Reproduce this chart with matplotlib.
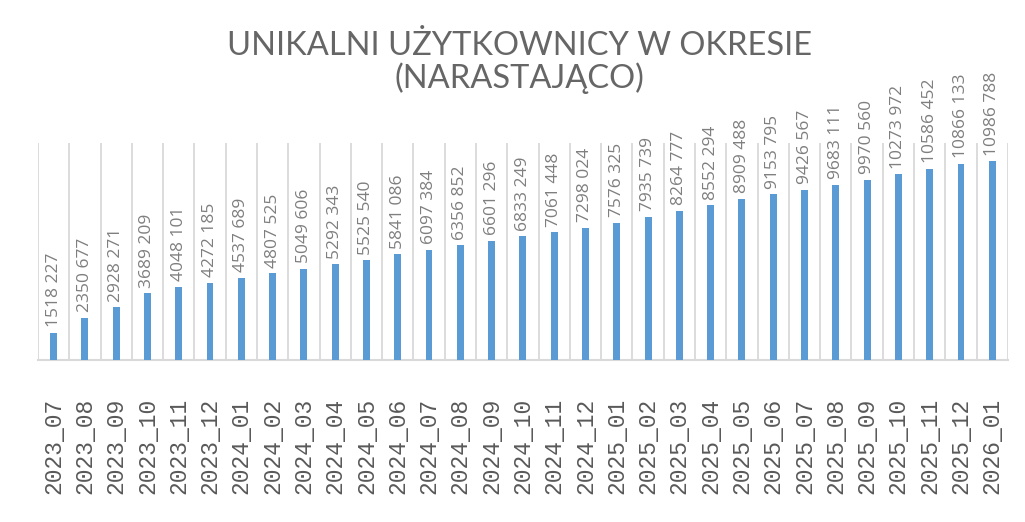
import matplotlib
matplotlib.use("Agg")
import matplotlib.pyplot as plt
import numpy as np

# monthly cumulative unique users
months = ["2023_07", "2023_08", "2023_09", "2023_10", "2023_11", "2023_12",
          "2024_01", "2024_02", "2024_03", "2024_04", "2024_05", "2024_06",
          "2024_07", "2024_08", "2024_09", "2024_10", "2024_11", "2024_12",
          "2025_01", "2025_02", "2025_03", "2025_04", "2025_05", "2025_06",
          "2025_07", "2025_08", "2025_09", "2025_10", "2025_11", "2025_12",
          "2026_01"]
users = [1518227, 2350677, 2928271, 3689209, 4048101, 4272185,
         4537689, 4807525, 5049606, 5292343, 5525540, 5841086,
         6097384, 6356852, 6601296, 6833249, 7061448, 7298024,
         7576325, 7935739, 8264777, 8552294, 8909488, 9153795,
         9426567, 9683111, 9970560, 10273972, 10586452, 10866133,
         10986788]

title = "UNIKALNI UŻYTKOWNICY W OKRESIE\n(NARASTAJĄCO)"

bar_color = "#5b9bd5"
text_gray = "#7f7f7f"
grid_gray = "#d9d9d9"

fig = plt.figure(figsize=(10.25, 5.22), dpi=100)
ax = fig.add_axes([0.037, 0.3103, 0.9463, 0.4157])

x = np.arange(len(months))
ax.bar(x, users, width=0.22, color=bar_color, zorder=3)

ax.set_xlim(-0.5, len(months) - 0.5)
ax.set_ylim(0, 12000000)

# vertical gridlines between categories
for b in np.arange(-0.5, len(months), 1.0):
    ax.axvline(b, color=grid_gray, lw=1.3, zorder=1)

for side in ["top", "right", "left"]:
    ax.spines[side].set_visible(False)
ax.spines["bottom"].set_color(grid_gray)
ax.spines["bottom"].set_linewidth(1.5)
ax.set_yticks([])

ax.set_xticks(x)
ax.set_xticklabels(months, rotation=90, fontsize=16.5, color="#595959",
                   family="Liberation Mono")
ax.tick_params(axis="x", length=0, pad=27)

# data labels, thousands grouped like the source ("10986 788")
for xi, v in zip(x, users):
    lab = f"{v // 1000} {v % 1000:03d}"
    ax.annotate(lab, (xi, v), xytext=(0, 4), textcoords="offset points",
                rotation=90, ha="center", va="bottom", fontsize=12.5,
                color=text_gray, family="Open Sans", clip_on=False)

fig.text(0.507, 0.881, title, ha="center", va="center", fontsize=23.5,
         color="#666666", family="Lato", linespacing=1.05)

fig.savefig("out.png", dpi=100)
